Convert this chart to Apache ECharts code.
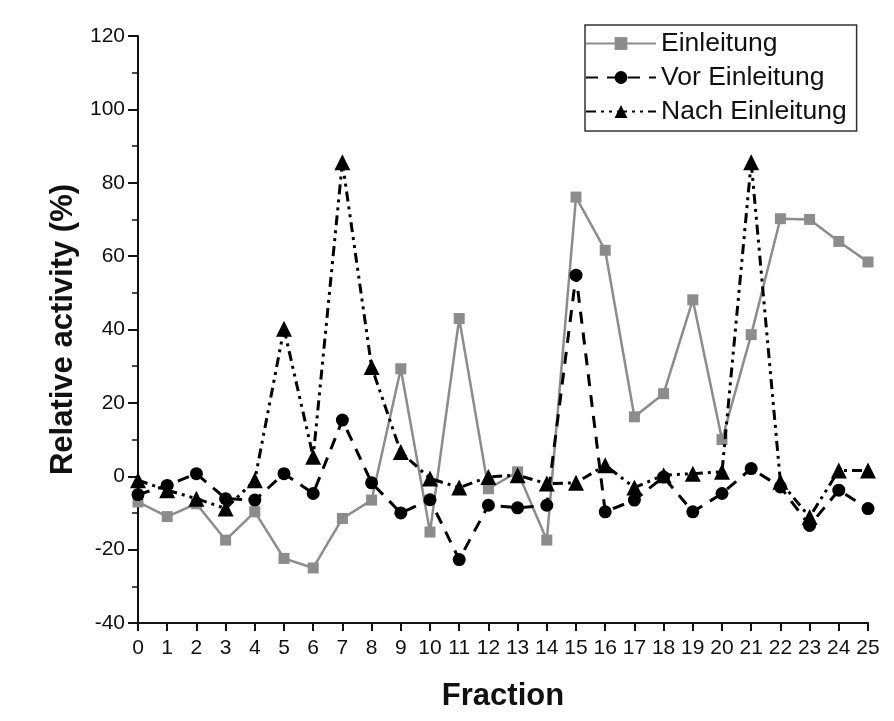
<!DOCTYPE html>
<html>
<head>
<meta charset="utf-8">
<title>Relative activity</title>
<script src="https://cdn.jsdelivr.net/npm/echarts@6/dist/echarts.min.js"></script>
<style>
  html, body { margin: 0; padding: 0; background: #fff; }
  #chart { width: 894px; height: 721px; }
</style>
</head>
<body>
<div id="chart"></div>
<script>
// fractions 0..25
var fractions = ['0','1','2','3','4','5','6','7','8','9','10','11','12','13','14','15','16','17','18','19','20','21','22','23','24','25'];
var einleitung = [-7, -11, -7.5, -17.4, -9.7, -22.4, -25, -11.5, -6.5, 29.3, -15.2, 43, -3.4, 1.2, -17.4, 76.1, 61.6, 16.2, 22.5, 48.1, 10, 38.6, 70.2, 70, 64, 58.4];
var vorEinleitung = [-5, -2.5, 0.7, -6.1, -6.5, 0.7, -4.7, 15.3, -1.8, -10, -6.4, -22.7, -7.9, -8.6, -7.9, 54.8, -9.7, -6.5, -0.2, -9.7, -4.7, 2.1, -2.9, -13.4, -3.8, -8.8];
var nachEinleitung = [-1.1, -3.8, -6.1, -8.8, -1.1, 40.2, 5.3, 85.6, 29.8, 6.6, -0.6, -3.1, -0.2, 0.3, -2, -1.8, 3, -3.1, 0.3, 0.7, 1.2, 85.6, -1.5, -11.1, 1.6, 1.6];

var chart = echarts.init(document.getElementById('chart'), null, { renderer: 'canvas' });
var font = 'Liberation Sans, Arial, sans-serif';

var option = {
    backgroundColor: '#fff',
    animation: false,
    textStyle: { fontFamily: font },
    grid: { left: 138, right: 26, top: 36, bottom: 98 },
    legend: {
        orient: 'vertical',
        left: 585,
        top: 25,
        padding: [4, 10, 5, 0],
        itemGap: 5,
        itemWidth: 70,
        itemHeight: 16,
        borderColor: '#333',
        borderWidth: 1.5,
        textStyle: { fontSize: 26.5, lineHeight: 29, color: '#111', fontFamily: font },
        data: ['Einleitung', 'Vor Einleitung', 'Nach Einleitung']
    },
    xAxis: {
        type: 'category',
        data: fractions,
        boundaryGap: false,
        name: 'Fraction',
        nameLocation: 'middle',
        nameGap: 58,
        nameTextStyle: { fontSize: 31, fontWeight: 'bold', color: '#111', fontFamily: font },
        axisLine: { onZero: false, lineStyle: { color: '#111', width: 2 } },
        axisTick: { alignWithLabel: true, length: 8, lineStyle: { color: '#111', width: 2 } },
        axisLabel: { fontSize: 21, color: '#111', margin: 15, interval: 0 },
        splitLine: { show: false }
    },
    yAxis: {
        type: 'value',
        min: -40,
        max: 120,
        interval: 20,
        name: 'Relative activity (%)',
        nameLocation: 'middle',
        nameGap: 59,
        nameTextStyle: { fontSize: 31, fontWeight: 'bold', color: '#111', fontFamily: font },
        axisLine: { show: true, lineStyle: { color: '#111', width: 2 } },
        axisTick: { show: true, length: 10, lineStyle: { color: '#111', width: 2 } },
        minorTick: { show: true, splitNumber: 2, length: 6, lineStyle: { color: '#111', width: 1.5 } },
        axisLabel: { fontSize: 21, color: '#111', margin: 13 },
        splitLine: { show: false }
    },
    series: [
        {
            name: 'Einleitung',
            type: 'line',
            data: einleitung,
            symbol: 'rect',
            symbolSize: 11,
            itemStyle: { color: '#8c8c8c' },
            lineStyle: { color: '#8c8c8c', width: 2.5 },
            z: 2
        },
        {
            name: 'Vor Einleitung',
            type: 'line',
            data: vorEinleitung,
            symbol: 'circle',
            symbolSize: 13,
            itemStyle: { color: '#000' },
            lineStyle: { color: '#000', width: 3, type: [12, 9] },
            z: 3
        },
        {
            name: 'Nach Einleitung',
            type: 'line',
            data: nachEinleitung,
            symbol: 'triangle',
            symbolSize: 16,
            itemStyle: { color: '#000' },
            lineStyle: { color: '#000', width: 3, type: [10, 5, 3, 5, 3, 5] },
            z: 4
        }
    ]
};

chart.setOption(option);
</script>
</body>
</html>
